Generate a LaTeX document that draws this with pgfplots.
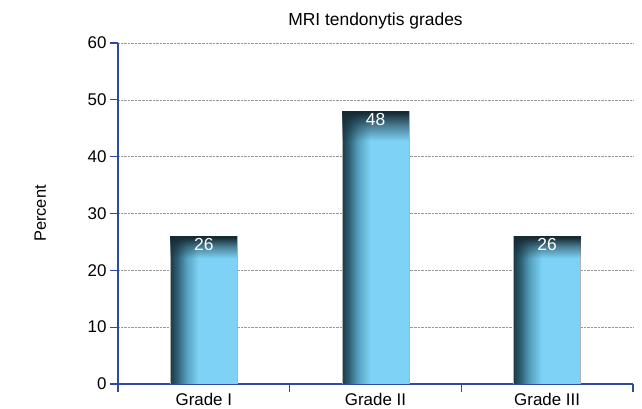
\documentclass[border=0pt]{standalone}
\usepackage{fontspec}
\setmainfont{Liberation Sans}
\usepackage{pgfplots}
\pgfplotsset{compat=1.18}
\usetikzlibrary{fadings}
\definecolor{axisblue}{RGB}{46,74,158}
\definecolor{barlight}{RGB}{125,210,245}
\definecolor{bardark}{RGB}{22,42,52}
\definecolor{cA}{RGB}{28,58,72}
\definecolor{cB}{RGB}{45,95,115}
\definecolor{cC}{RGB}{85,160,190}
\pgfdeclarehorizontalshading{barshade}{100bp}{color(0bp)=(cA); color(25bp)=(cA); color(30bp)=(cB); color(37bp)=(cC); color(46bp)=(barlight); color(100bp)=(barlight)}
\pgfdeclareverticalshading{capshadeA}{100bp}{color(0bp)=(black); color(67.5bp)=(black); color(71.5bp)=(black!50); color(74.5bp)=(white); color(100bp)=(white)}
\pgfdeclarefading{capfadeA}{\pgfuseshading{capshadeA}}
\pgfdeclareverticalshading{capshadeB}{100bp}{color(0bp)=(black); color(69.5bp)=(black); color(72.3bp)=(black!50); color(74.7bp)=(white); color(100bp)=(white)}
\pgfdeclarefading{capfadeB}{\pgfuseshading{capshadeB}}
\pgfplotsset{common/.style={
  width=515bp, height=341bp, scale only axis,
  at={(0,0)}, anchor=south west,
  xmin=-0.5, xmax=2.5, ymin=0, ymax=60,
  ybar=0pt, bar shift=0pt, bar width=0.39,
}}
\begin{document}
\begin{tikzpicture}
\useasboundingbox (-118bp,-25bp) rectangle (524bp,384bp);
\begin{axis}[common,
  axis x line*=bottom, axis y line*=left,
  axis line style={axisblue, line width=1.2bp, -},
  ytick={0,10,...,60}, ymajorgrids,
  grid style={densely dotted, gray!80, line width=0.6bp},
  xtick={0,1,2}, xticklabels={Grade I, Grade II, Grade III},
  minor xtick={-0.5,0.5,1.5,2.5},
  tick align=outside,
  major tick length=8bp, minor tick length=8bp,
  tick style={axisblue, line width=1.2bp},
  major x tick style={draw=none},
  /pgf/number format/assume math mode=true,
  tick label style={font=\fontsize{17}{20}\selectfont, black},
  xticklabel style={yshift=2bp},
  ylabel={Percent},
  ylabel style={at={(axis description cs:-0.151,0.5)}, anchor=center, font=\fontsize{16.5}{19}\selectfont},
  title={MRI tendonytis grades},
  title style={at={(axis description cs:0.5,1)}, anchor=base, yshift=12bp, font=\fontsize{17.5}{20}\selectfont},
]
\addplot[shading=barshade, draw=gray!60, line width=0.6bp] coordinates {(0,26)};
\addplot[shading=barshade, draw=gray!60, line width=0.6bp] coordinates {(1,48)};
\addplot[shading=barshade, draw=gray!60, line width=0.6bp] coordinates {(2,26)};
\end{axis}
\begin{axis}[common, hide axis]
\addplot[fill=bardark, draw=none, path fading=capfadeA] coordinates {(0,26)};
\addplot[fill=bardark, draw=none, path fading=capfadeB] coordinates {(1,48)};
\addplot[fill=bardark, draw=none, path fading=capfadeA] coordinates {(2,26)};
\end{axis}
\begin{axis}[common, hide axis,
  nodes near coords, point meta=explicit symbolic,
  every node near coord/.append style={anchor=north, text=white, font=\fontsize{17.5}{20}\selectfont, yshift=1bp}]
\addplot[draw=none, fill=none] coordinates {(0,26) [26] (1,48) [48] (2,26) [26]};
\end{axis}
\end{tikzpicture}
\end{document}
